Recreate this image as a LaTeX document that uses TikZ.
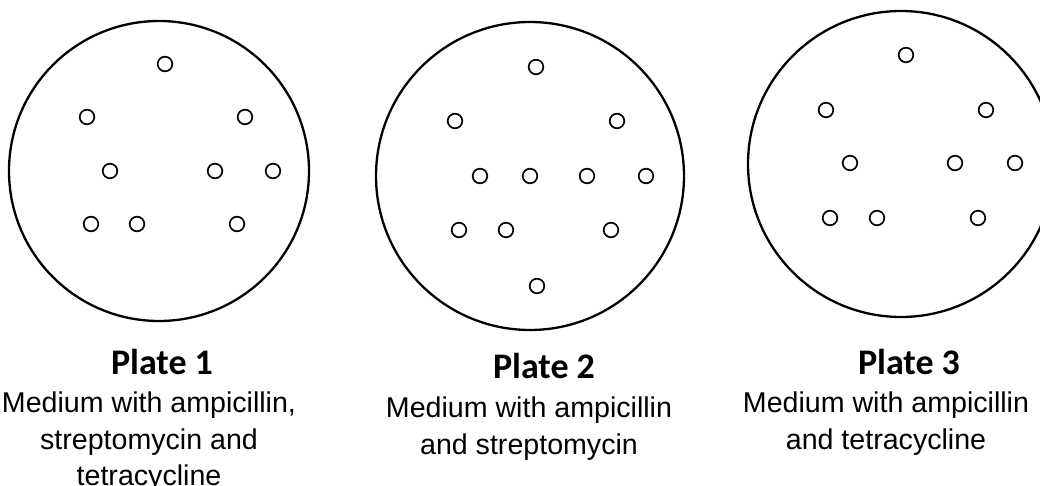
\documentclass[tikz,border=0pt]{standalone}
\usepackage{fontspec}
\setmainfont{Liberation Sans}
\newfontfamily\titlefont{Carlito}
\usetikzlibrary{positioning}

\tikzset{
  plate/.style={draw, circle, line width=1.15pt, inner sep=0pt},
  colony/.style={line width=0.85pt},
  platetitle/.style={anchor=base, inner sep=0pt, font=\titlefont\bfseries\fontsize{18}{21}\selectfont},
  medium/.style={inner sep=0pt, align=center, font=\fontsize{14.3}{18.3}\selectfont}
}

\begin{document}
\begin{tikzpicture}[x=0.5pt, y=-0.5pt]
\useasboundingbox (0,0) rectangle (1040,486);
\clip (0,0) rectangle (1040,486);
% the three plates
\node[plate, minimum size=150pt] (plateA) at (159,171) {};
\node[plate, minimum size=154pt] (plateB) at (530,176) {};
\node[plate, minimum size=153pt] (plateC) at (901,164) {};
% colonies
\foreach \a/\b in {165/64,87/117,245/117,110/171,215/171,273/171,91/224,137/224,237/224}
  \draw[colony] (\a,\b) circle (7.3);
\foreach \a/\b in {536/67,455/121,617/121,480/176,530/176,587/176,646/176,459/230,506/230,611/230,537/286}
  \draw[colony] (\a,\b) circle (7.3);
\foreach \a/\b in {906/55,826/110,986/110,850/163,955/163,1015/163,830/218,877/218,978/218}
  \draw[colony] (\a,\b) circle (7.3);
% labels
\node[platetitle] (titleA) at (162,375) {Plate 1};
\node[platetitle] (titleB) at (544,379) {Plate 2};
\node[platetitle] (titleC) at (909,375) {Plate 3};
\node[medium, below=8pt of titleA, xshift=-6.5pt] (mediumA) {Medium with ampicillin,\\ streptomycin and\\ tetracycline};
\node[medium, below=8.5pt of titleB, xshift=-7.5pt] (mediumB) {Medium with ampicillin\\ and streptomycin};
\node[medium, below=8pt of titleC, xshift=-11.5pt] (mediumC) {Medium with ampicillin\\ and tetracycline};
\end{tikzpicture}
\end{document}
